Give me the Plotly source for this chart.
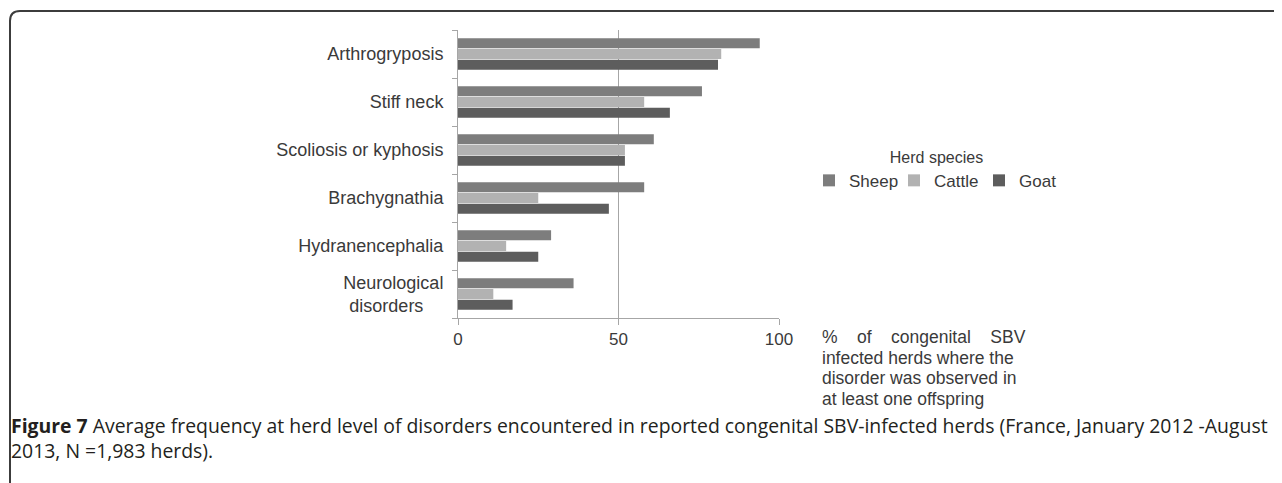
import plotly.graph_objects as go

# data (% of herds)
disorders = ['Arthrogryposis', 'Stiff neck', 'Scoliosis or kyphosis',
             'Brachygnathia', 'Hydranencephalia', 'Neurological disorders']
disorder_labels = ['Arthrogryposis', 'Stiff neck', 'Scoliosis or kyphosis',
                   'Brachygnathia', 'Hydranencephalia',
                   'Neurological<br>disorders&nbsp;&nbsp;&nbsp;&nbsp;']
sheep = [94, 76, 61, 58, 29, 36]
cattle = [82, 58, 52, 25, 15, 11]
goat = [81, 66, 52, 47, 25, 17]
x_ticks = [0, 50, 100]

# the page body adds an 8px margin, so work in screen pixels and shift back
OFF = 8
SW, SH = 1282, 483
W, H = SW - OFF, SH - OFF
L, R, T, B = 458, 779, 30, 318   # plot area on screen


def px(x):
    return (x - L) / (R - L)


def py(y):
    return (B - y) / (B - T)


fig = go.Figure()
for name, vals, col in [('Sheep', sheep, '#7d7d7d'),
                        ('Cattle', cattle, '#b2b2b2'),
                        ('Goat', goat, '#5d5d5d')]:
    fig.add_trace(go.Bar(
        y=disorders, x=vals, name=name, orientation='h',
        marker=dict(color=col, line=dict(width=0)),
    ))

txt = '#3a3a3a'
fig.update_layout(
    width=W, height=H,
    margin=dict(l=L - OFF, r=SW - R, t=T - OFF, b=SH - B),
    paper_bgcolor='white', plot_bgcolor='white',
    barmode='group', bargap=0.33, bargroupgap=0.08,
    font=dict(family='Liberation Sans, Arial', size=18, color=txt),
    xaxis=dict(range=[0, 100], tickvals=x_ticks, showgrid=True,
               gridcolor='#a6a6a6', gridwidth=1, zeroline=False,
               showline=True, linecolor='#a6a6a6', ticks='outside',
               tickcolor='#a6a6a6', ticklen=6, tickfont=dict(size=17)),
    yaxis=dict(categoryorder='array', categoryarray=disorders,
               tickvals=disorders, ticktext=disorder_labels,
               autorange='reversed', showline=True, linecolor='#a6a6a6',
               ticks='outside', tickson='boundaries', tickcolor='#a6a6a6',
               ticklen=5, showgrid=False, ticklabelstandoff=10),
    legend=dict(orientation='h', x=px(809), y=py(142), xanchor='left',
                yanchor='top', font=dict(size=17, color=txt),
                title=dict(text='Herd species', side='top center',
                           font=dict(size=16, color=txt)),
                itemwidth=30, entrywidth=40, tracegroupgap=0),
    showlegend=True,
)

# x axis title block to the right of the axis, one line at a time
title_lines = ['%&nbsp;&nbsp;&nbsp; of&nbsp;&nbsp;&nbsp; congenital&nbsp;&nbsp;&nbsp; SBV',
               'infected herds where the', 'disorder was observed in',
               'at least one offspring']
for i, line in enumerate(title_lines):
    fig.add_annotation(
        xref='paper', yref='paper', x=px(820), y=py(337 + 20.5 * i),
        xanchor='left', yanchor='middle', align='left', showarrow=False,
        font=dict(size=17.5, color=txt), text=line,
    )

# caption (two lines in one text)
fig.add_annotation(
    xref='paper', yref='paper', x=px(9), y=py(438), xanchor='left',
    yanchor='middle', align='left', showarrow=False,
    font=dict(family='Open Sans', size=19.4, color='#231f20'),
    text=('<b>Figure 7</b> Average frequency at herd level of disorders '
          'encountered in reported congenital SBV-infected herds (France, '
          'January 2012 -August<br>2013, N =1,983 herds).'),
)

# rounded frame around the figure
r = 10
fig.add_shape(
    type='path', xref='paper', yref='paper',
    path=(f'M {px(10)},{py(SH + 5)} L {px(10)},{py(11 + r)} '
          f'Q {px(10)},{py(11)} {px(10 + r)},{py(11)} L {px(SW + 5)},{py(11)}'),
    line=dict(color='#3c3c3c', width=2),
)

fig.write_html('out.html')
